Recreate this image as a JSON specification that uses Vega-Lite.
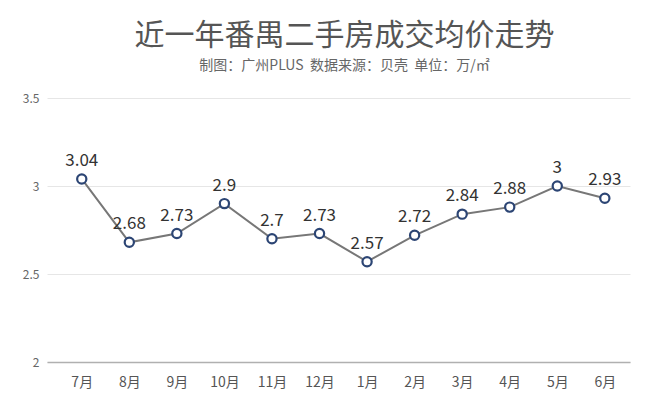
{
  "$schema": "https://vega.github.io/schema/vega-lite/v6.json",
  "width": 583,
  "height": 264,
  "autosize": {"type": "none"},
  "padding": {"left": 47, "top": 98, "right": 30, "bottom": 53},
  "background": "white",
  "config": {"view": {"stroke": null}, "font": "Noto Sans CJK SC"},
  "title": {
    "text": "近一年番禺二手房成交均价走势",
    "subtitle": "制图：广州PLUS\u00a0\u00a0数据来源：贝壳\u00a0\u00a0单位：万/㎡",
    "anchor": "middle",
    "frame": "group",
    "dx": 6,
    "offset": 19,
    "font": "Noto Sans CJK SC",
    "fontSize": 30,
    "fontWeight": 400,
    "color": "#555555",
    "subtitleFont": "Noto Sans CJK SC",
    "subtitleFontSize": 14,
    "subtitleColor": "#666666",
    "subtitlePadding": 8
  },
  "data": {
    "values": [
      {"month": "7月", "price": 3.04},
      {"month": "8月", "price": 2.68},
      {"month": "9月", "price": 2.73},
      {"month": "10月", "price": 2.9},
      {"month": "11月", "price": 2.7},
      {"month": "12月", "price": 2.73},
      {"month": "1月", "price": 2.57},
      {"month": "2月", "price": 2.72},
      {"month": "3月", "price": 2.84},
      {"month": "4月", "price": 2.88},
      {"month": "5月", "price": 3},
      {"month": "6月", "price": 2.93}
    ]
  },
  "encoding": {
    "x": {
      "field": "month",
      "type": "ordinal",
      "sort": null,
      "scale": {"type": "point", "padding": 0.63, "align": 0.58},
      "axis": {
        "title": null,
        "labelAngle": 0,
        "labelFontSize": 14,
        "labelColor": "#555555",
        "labelPadding": 13,
        "ticks": false,
        "grid": false,
        "domainColor": "#b0b0b0",
        "domainWidth": 1.5
      }
    },
    "y": {
      "field": "price",
      "type": "quantitative",
      "scale": {"domain": [2, 3.5]},
      "axis": {
        "title": null,
        "values": [2, 2.5, 3, 3.5],
        "format": "~g",
        "labelFontSize": 12,
        "labelColor": "#666666",
        "labelPadding": 8,
        "ticks": false,
        "domain": false,
        "gridColor": "#e6e6e6",
        "gridWidth": 1
      }
    }
  },
  "layer": [
    {"mark": {"type": "line", "color": "#777777", "strokeWidth": 2}},
    {"mark": {"type": "point", "filled": true, "fill": "white", "stroke": "#2c4574", "strokeWidth": 2.2, "size": 85, "opacity": 1}},
    {
      "mark": {"type": "text", "baseline": "bottom", "dy": -9, "fontSize": 17, "color": "#333333"},
      "encoding": {"text": {"field": "price", "type": "quantitative"}}
    }
  ]
}
